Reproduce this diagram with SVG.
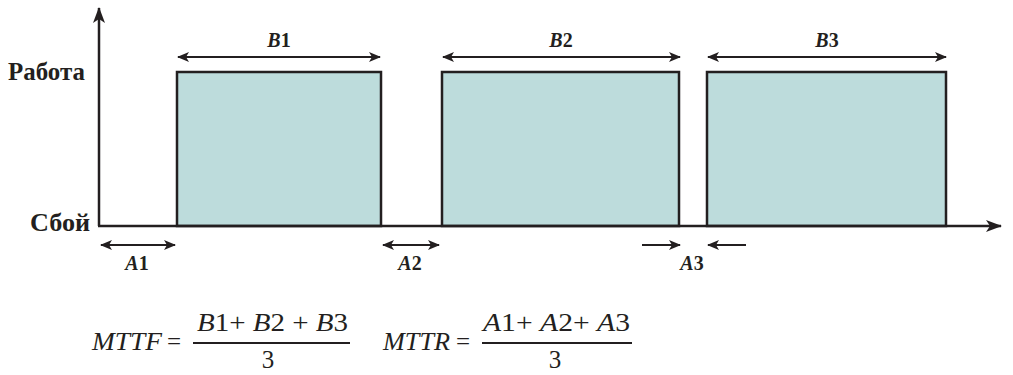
<svg xmlns="http://www.w3.org/2000/svg" width="1013" height="375" viewBox="0 0 1013 375">
<style>
.ln{stroke:#231f20;stroke-width:2.5;fill:none}
.ar{stroke:#231f20;stroke-width:2;fill:none}
.box{fill:#bddcdc;stroke:#231f20;stroke-width:2.5}
.lab{font-family:"Liberation Serif",serif;font-weight:bold;font-size:20px;fill:#231f20}
.ax{font-family:"Liberation Serif",serif;font-weight:bold;font-size:25px;fill:#231f20}
.f{font-family:"Liberation Serif",serif;font-size:25px;fill:#231f20}
.i{font-style:italic}
.fl{stroke:#231f20;stroke-width:2}
</style>
<defs>
<marker id="ah" viewBox="0 0 12 10" refX="11" refY="5" markerWidth="12" markerHeight="10" markerUnits="userSpaceOnUse" orient="auto-start-reverse">
<path d="M0,0 L12,5 L0,10 L3,5 z" fill="#231f20"/>
</marker>
<marker id="axh" viewBox="0 0 16 12" refX="15" refY="6" markerWidth="16" markerHeight="12" markerUnits="userSpaceOnUse" orient="auto">
<path d="M0,0 L16,6 L0,12 L4,6 z" fill="#231f20"/>
</marker>
</defs>
<g id="boxes">
<g id="b1"><rect class="box" x="177" y="72" width="204" height="154"/></g>
<g id="b2"><rect class="box" x="442" y="72" width="237" height="154"/></g>
<g id="b3"><rect class="box" x="707" y="72" width="239" height="154"/></g>
</g>
<g id="axes">
<line class="ln" x1="99" y1="226" x2="99" y2="8" marker-end="url(#axh)"/>
<line class="ln" x1="98" y1="226" x2="1001" y2="226" marker-end="url(#axh)"/>
<text class="ax" x="8" y="80" textLength="77" lengthAdjust="spacingAndGlyphs">Работа</text>
<text class="ax" x="30" y="231" textLength="60" lengthAdjust="spacingAndGlyphs">Сбой</text>
</g>
<g id="connectors">
<line class="ar" x1="178" y1="57" x2="380" y2="57" marker-start="url(#ah)" marker-end="url(#ah)"/>
<line class="ar" x1="443" y1="57" x2="680" y2="57" marker-start="url(#ah)" marker-end="url(#ah)"/>
<line class="ar" x1="708" y1="57" x2="946" y2="57" marker-start="url(#ah)" marker-end="url(#ah)"/>
<line class="ar" x1="101" y1="245" x2="175" y2="245" marker-start="url(#ah)" marker-end="url(#ah)"/>
<line class="ar" x1="383" y1="245" x2="439" y2="245" marker-start="url(#ah)" marker-end="url(#ah)"/>
<line class="ar" x1="642" y1="245" x2="680" y2="245" marker-end="url(#ah)"/>
<line class="ar" x1="746" y1="245" x2="708" y2="245" marker-end="url(#ah)"/>
</g>
<g id="labels">
<text class="lab" x="279" y="47" text-anchor="middle"><tspan class="i">B</tspan>1</text>
<text class="lab" x="561" y="47" text-anchor="middle"><tspan class="i">B</tspan>2</text>
<text class="lab" x="827" y="47" text-anchor="middle"><tspan class="i">B</tspan>3</text>
<text class="lab" x="137" y="270" text-anchor="middle"><tspan class="i">A</tspan>1</text>
<text class="lab" x="410" y="270" text-anchor="middle"><tspan class="i">A</tspan>2</text>
<text class="lab" x="692" y="270" text-anchor="middle"><tspan class="i">A</tspan>3</text>
</g>
<g id="formulas">
<text class="f i" x="92" y="350" textLength="70" lengthAdjust="spacingAndGlyphs">MTTF</text>
<text class="f" x="174" y="350" text-anchor="middle">=</text>
<text class="f" x="197" y="331" textLength="151" lengthAdjust="spacingAndGlyphs"><tspan class="i">B</tspan>1+ <tspan class="i">B</tspan>2 + <tspan class="i">B</tspan>3</text>
<line class="fl" x1="193" y1="343" x2="350" y2="343"/>
<text class="f" x="268" y="368" text-anchor="middle">3</text>
<text class="f i" x="383" y="350" textLength="67" lengthAdjust="spacingAndGlyphs">MTTR</text>
<text class="f" x="463" y="350" text-anchor="middle">=</text>
<text class="f" x="483" y="331" textLength="147" lengthAdjust="spacingAndGlyphs"><tspan class="i">A</tspan>1+ <tspan class="i">A</tspan>2+ <tspan class="i">A</tspan>3</text>
<line class="fl" x1="482" y1="343" x2="632" y2="343"/>
<text class="f" x="555" y="368" text-anchor="middle">3</text>
</g>
</svg>
